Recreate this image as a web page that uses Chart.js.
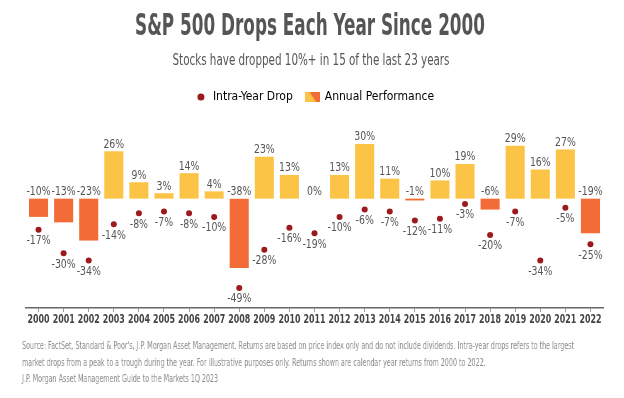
<!DOCTYPE html>
<html>
<head>
<meta charset="utf-8">
<script src="https://cdn.jsdelivr.net/npm/chart.js@4.4.0/dist/chart.umd.min.js"></script>
<style>
  body { margin: 0; background: #fff; }
  #wrap { position: relative; width: 624px; height: 327px; }
  #note {
    position: absolute; left: 22px; top: 338px;
    font-family: "DejaVu Sans Condensed", "Liberation Sans Narrow", sans-serif;
    font-size: 10px; line-height: 16.5px; color: #8a8a8a;
    white-space: nowrap; transform-origin: 0 0; will-change: transform;
  }
</style>
</head>
<body>
<div id="wrap"><canvas id="dropsChart"></canvas></div>
<div id="note">
  <span id="noteLine1">Source: FactSet, Standard &amp; Poor's, J.P. Morgan Asset Management. Returns are based on price index only and do not include dividends. Intra-year drops refers to the largest</span><br>
  market drops from a peak to a trough during the year. For illustrative purposes only. Returns shown are calendar year returns from 2000 to 2022.<br>
  J.P. Morgan Asset Management Guide to the Markets 1Q 2023
</div>
<script>
  // Data
  const years = ['2000','2001','2002','2003','2004','2005','2006','2007','2008','2009','2010','2011',
                 '2012','2013','2014','2015','2016','2017','2018','2019','2020','2021','2022'];
  const annualPerformance = [-10, -13, -23, 26, 9, 3, 14, 4, -38, 23, 13, 0, 13, 30, 11, -1, 10, 19, -6, 29, 16, 27, -19];
  const intraYearDrop = [-17, -30, -34, -14, -8, -7, -8, -10, -49, -28, -16, -19, -10, -6, -7, -12, -11, -3, -20, -7, -34, -5, -25];

  const FONT = '"DejaVu Sans Condensed", "Liberation Sans Narrow", sans-serif';
  const YELLOW = '#fcc446';
  const ORANGE = '#f36c37';
  const DOT = '#9c1a1e';
  const TEXT = '#555555';

  Chart.defaults.font.family = FONT;
  Chart.defaults.color = TEXT;

  // squeeze the footnote to the width of the original
  const note = document.getElementById('note');
  const line1 = document.getElementById('noteLine1');
  note.style.transform = 'scaleX(' + (552 / line1.getBoundingClientRect().width) + ')';

  // small gradient square for the legend
  const swatch = document.createElement('canvas');
  swatch.width = 15;
  swatch.height = 10;
  const sctx = swatch.getContext('2d');
  const grad = sctx.createLinearGradient(0, 10, 15, 0);
  grad.addColorStop(0, YELLOW);
  grad.addColorStop(0.45, YELLOW);
  grad.addColorStop(0.55, ORANGE);
  grad.addColorStop(1, ORANGE);
  sctx.fillStyle = grad;
  sctx.fillRect(0, 0, 15, 10);

  // draw text squeezed horizontally (the original uses a very narrow font)
  function narrowText(ctx, text, x, y, sx) {
    ctx.save();
    ctx.translate(x, y);
    ctx.scale(sx, 1);
    ctx.fillText(text, 0, 0);
    ctx.restore();
  }

  // title + subtitle, fitted to the original widths
  const headings = {
    id: 'headings',
    afterDraw(chart) {
      const ctx = chart.ctx;
      ctx.save();
      ctx.fillStyle = TEXT;
      ctx.textAlign = 'center';
      ctx.textBaseline = 'alphabetic';
      const title = 'S&P 500 Drops Each Year Since 2000';
      ctx.font = 'bold 30px ' + FONT;
      narrowText(ctx, title, 310, 35, 350 / ctx.measureText(title).width);
      const sub = 'Stocks have dropped 10%+ in 15 of the last 23 years';
      ctx.font = '16px ' + FONT;
      narrowText(ctx, sub, 311, 65, 277 / ctx.measureText(sub).width);
      ctx.restore();
    }
  };

  // year labels under the axis, narrow like the original
  const yearLabels = {
    id: 'yearLabels',
    afterDraw(chart) {
      const ctx = chart.ctx;
      const x = chart.scales.x;
      ctx.save();
      ctx.fillStyle = '#444';
      ctx.textAlign = 'center';
      ctx.textBaseline = 'middle';
      ctx.font = 'bold 13px ' + FONT;
      const sx = 22 / ctx.measureText('2000').width;
      years.forEach((yr, i) => {
        narrowText(ctx, yr, x.getPixelForValue(i), x.bottom + 8, sx);
      });
      ctx.restore();
    }
  };

  // value labels for bars and dots
  const valueLabels = {
    id: 'valueLabels',
    afterDatasetsDraw(chart) {
      const ctx = chart.ctx;
      ctx.save();
      ctx.font = '13px ' + FONT;
      ctx.fillStyle = TEXT;
      ctx.textAlign = 'center';
      ctx.textBaseline = 'middle';
      const y = chart.scales.y;
      chart.getDatasetMeta(1).data.forEach((bar, i) => {
        const v = annualPerformance[i];
        const top = y.getPixelForValue(Math.max(v, 0));
        narrowText(ctx, v + '%', bar.x, top - 7, 0.8);
      });
      chart.getDatasetMeta(0).data.forEach((pt, i) => {
        narrowText(ctx, intraYearDrop[i] + '%', pt.x, pt.y + 11, 0.8);
      });
      ctx.restore();
    }
  };

  const ctx = document.getElementById('dropsChart').getContext('2d');
  const chart = new Chart(ctx, {
    data: {
      labels: years,
      datasets: [{
        type: 'line',
        label: 'Intra-Year Drop',
        data: intraYearDrop,
        showLine: false,
        pointRadius: 3,
        pointHoverRadius: 3,
        pointBackgroundColor: DOT,
        pointBorderWidth: 0,
        borderColor: DOT,
        order: 0
      }, {
        type: 'bar',
        label: 'Annual Performance',
        data: annualPerformance,
        backgroundColor: annualPerformance.map(v => v < 0 ? ORANGE : YELLOW),
        barPercentage: 0.76,
        categoryPercentage: 1,
        order: 1
      }]
    },
    options: {
      responsive: true,
      maintainAspectRatio: false,
      animation: false,
      layout: { padding: { left: 26, right: 21, top: 77, bottom: 15 } },
      scales: {
        x: {
          grid: { display: true, drawOnChartArea: false, offset: false, tickLength: 4, color: '#999' },
          border: { display: true, color: '#666', width: 1.5 },
          ticks: { display: false }
        },
        y: {
          display: false,
          min: -60,
          max: 47
        }
      },
      plugins: {
        title: { display: false },
        legend: {
          position: 'top',
          labels: {
            usePointStyle: true,
            boxHeight: 5,
            boxWidth: 12,
            padding: 14,
            color: TEXT,
            font: { size: 12 },
            generateLabels() {
              return [
                { text: 'Intra-Year Drop', pointStyle: 'circle', fillStyle: DOT, strokeStyle: DOT, lineWidth: 0, datasetIndex: 0 },
                { text: 'Annual Performance', pointStyle: swatch, fillStyle: ORANGE, strokeStyle: ORANGE, lineWidth: 0, datasetIndex: 1 }
              ];
            }
          }
        },
        tooltip: { enabled: false }
      }
    },
    plugins: [headings, yearLabels, valueLabels]
  });
</script>
</body>
</html>
